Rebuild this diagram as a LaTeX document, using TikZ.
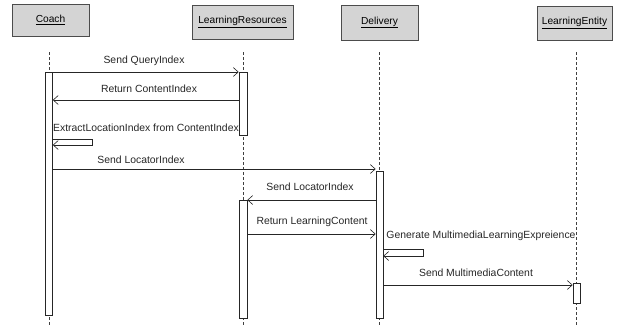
\documentclass[tikz,border=0pt]{standalone}
\usepackage{fontspec}
\setmainfont{Liberation Sans}
\usetikzlibrary{arrows.meta}
\begin{document}
\begin{tikzpicture}[x=1pt,y=-1pt,
  actor/.style={draw=black!70,line width=0.9pt,fill=black!17,inner sep=0pt,
    font=\fontsize{10.2}{12}\selectfont},
  lifeline/.style={draw=black!75,densely dashed,line width=0.5pt},
  actbar/.style={draw=black!85,fill=white,line width=0.6pt,inner sep=0pt,
    minimum width=7pt,anchor=north},
  msg/.style={draw=black!85,line width=0.6pt,-{Straight Barb[length=5pt,width=9pt]}},
  msglabel/.style={font=\fontsize{10.4}{12}\selectfont,inner sep=0pt,text=black!85}]
\useasboundingbox (0,0) rectangle (620,327);

% participant boxes
\node[actor,minimum width=77pt,minimum height=32pt] (coach) at (50.5,20) {\underline{Coach}};
\node[actor,minimum width=101pt,minimum height=34pt] (lr) at (242.5,22) {\underline{LearningResources}};
\node[actor,minimum width=77pt,minimum height=35pt] (dlv) at (379.5,22.5) {\underline{Delivery}};
\node[actor,minimum width=75pt,minimum height=34pt] (le) at (574.5,23) {\underline{LearningEntity}};

% lifelines
\coordinate (coachtop) at (49,52);   \coordinate (coachbot) at (49,326);
\coordinate (lrtop) at (243,52);     \coordinate (lrbot) at (243,326);
\coordinate (dlvtop) at (379.5,52);  \coordinate (dlvbot) at (379.5,326);
\coordinate (letop) at (576.5,52);   \coordinate (lebot) at (576.5,326);
\draw[lifeline] (coachtop) -- (coachbot);
\draw[lifeline] (lrtop) -- (lrbot);
\draw[lifeline] (dlvtop) -- (dlvbot);
\draw[lifeline] (letop) -- (lebot);

% activation bars
\node[actbar,minimum height=243pt] (cb) at (49,72) {};
\node[actbar,minimum height=63pt,minimum width=8pt] (lr1) at (243,72) {};
\node[actbar,minimum height=118pt,minimum width=8pt] (lr2) at (243,200) {};
\node[actbar,minimum height=147pt] (db) at (379.5,171) {};
\node[actbar,minimum height=20pt] (leb) at (576.5,283) {};

% messages
\draw[msg] (cb.north east) -- (lr1.north west);
\node[msglabel] (l1) at (144,61) {Send QueryIndex};

\draw[msg] (lr1.west |- 0,100) -- (cb.east |- 0,100);
\node[msglabel] (l2) at (149,89) {Return ContentIndex};

\draw[msg] (cb.east |- 0,139) -- ++(39,0) -- ++(0,6) -- (cb.east |- 0,145);
\node[msglabel] (l3) at (146,128) {ExtractLocationIndex from ContentIndex};

\draw[msg] (cb.east |- 0,169) -- (db.west |- 0,169);
\node[msglabel] (l4) at (141,160) {Send LocatorIndex};

\draw[msg] (db.west |- 0,200) -- (lr2.north east);
\node[msglabel] (l5) at (310,187) {Send LocatorIndex};

\draw[msg] (lr2.east |- 0,234) -- (db.west |- 0,234);
\node[msglabel] (l6) at (312,222) {Return LearningContent};

\draw[msg] (db.east |- 0,249) -- ++(40,0) -- ++(0,7) -- (db.east |- 0,256);
\node[msglabel] (l7) at (481,236) {Generate MultimediaLearningExpreience};

\draw[msg] (db.east |- 0,285) -- (leb.west |- 0,285);
\node[msglabel] (l8) at (476,273) {Send MultimediaContent};
\end{tikzpicture}
\end{document}
